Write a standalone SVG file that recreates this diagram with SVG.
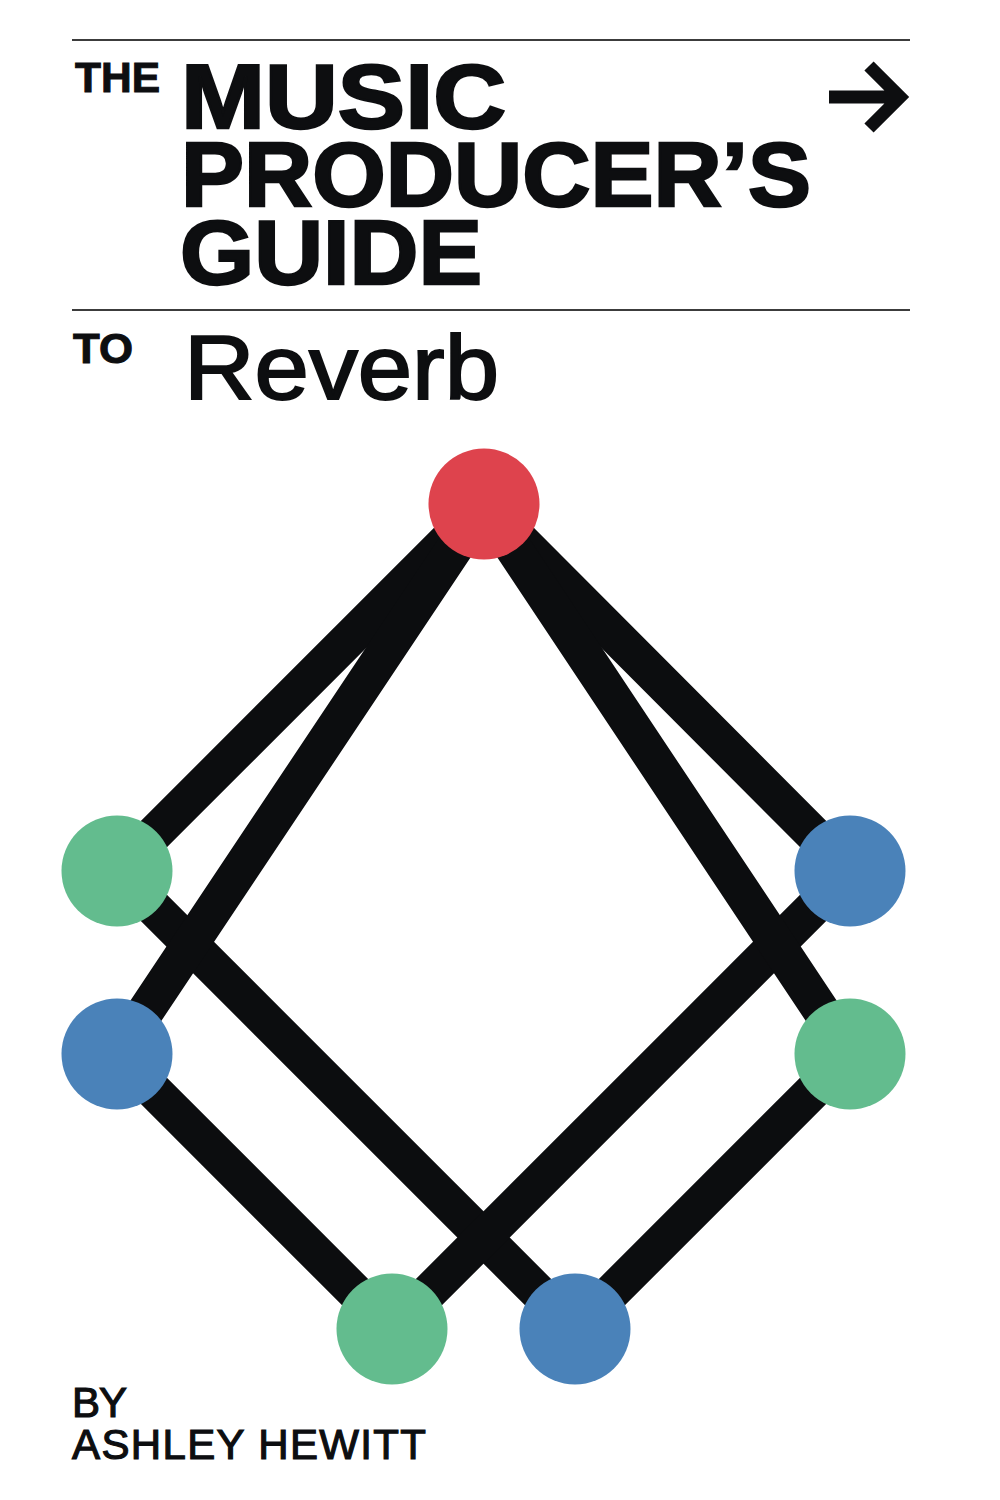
<svg xmlns="http://www.w3.org/2000/svg" width="1000" height="1500" viewBox="0 0 1000 1500">
<style>
text{font-family:"Liberation Sans",Arial,sans-serif;fill:#0d0e10}
.t{font-weight:700;font-size:91px;stroke:#0d0e10;stroke-width:2.5px}
.s{font-weight:700;font-size:42px;stroke:#0d0e10;stroke-width:1px}
.b{font-size:42px;stroke:#0d0e10;stroke-width:1.2px}
.e{fill:none;stroke:#0c0d0f;stroke-width:37}
.r{stroke:#3c3c3c;stroke-width:2}
</style>
<rect width="1000" height="1500" fill="#fff"/>
<line class="r" x1="72" y1="40" x2="910" y2="40"/>
<line class="r" x1="72" y1="310" x2="910" y2="310"/>
<text class="s" x="75" y="92" textLength="85" lengthAdjust="spacingAndGlyphs">THE</text>
<text class="t" x="181" y="128" textLength="325" lengthAdjust="spacingAndGlyphs">MUSIC</text>
<text class="t" x="181" y="206" textLength="630" lengthAdjust="spacingAndGlyphs">PRODUCER’S</text>
<text class="t" x="180" y="284" textLength="302" lengthAdjust="spacingAndGlyphs">GUIDE</text>
<text class="s" x="73" y="363" textLength="60" lengthAdjust="spacingAndGlyphs">TO</text>
<text x="184" y="399" font-size="91" stroke="#0d0e10" stroke-width="2" textLength="315" lengthAdjust="spacingAndGlyphs">Reverb</text>
<path d="M829 97H900M869 66L900 97L869 128" fill="none" stroke="#0d0e10" stroke-width="13"/>
<g id="connectors">
<path class="e" d="M484 504L117 871L575 1329"/>
<path class="e" d="M484 504L117 1054L392 1329"/>
<path class="e" d="M484 504L850 871L392 1329"/>
<path class="e" d="M484 504L850 1054L575 1329"/>
</g>
<g id="node-top"><circle cx="484" cy="504" r="55.500" fill="#de434d"/></g>
<g id="node-left-1"><circle cx="117" cy="871" r="55.500" fill="#63bc8e"/></g>
<g id="node-left-2"><circle cx="117" cy="1054" r="55.500" fill="#4a82b9"/></g>
<g id="node-right-1"><circle cx="850" cy="871" r="55.500" fill="#4a82b9"/></g>
<g id="node-right-2"><circle cx="850" cy="1054" r="55.500" fill="#63bc8e"/></g>
<g id="node-bottom-1"><circle cx="392" cy="1329" r="55.500" fill="#63bc8e"/></g>
<g id="node-bottom-2"><circle cx="575" cy="1329" r="55.500" fill="#4a82b9"/></g>
<text class="b" x="72" y="1417" textLength="55">BY</text>
<text class="b" x="72" y="1459" textLength="354">ASHLEY HEWITT</text>
</svg>
